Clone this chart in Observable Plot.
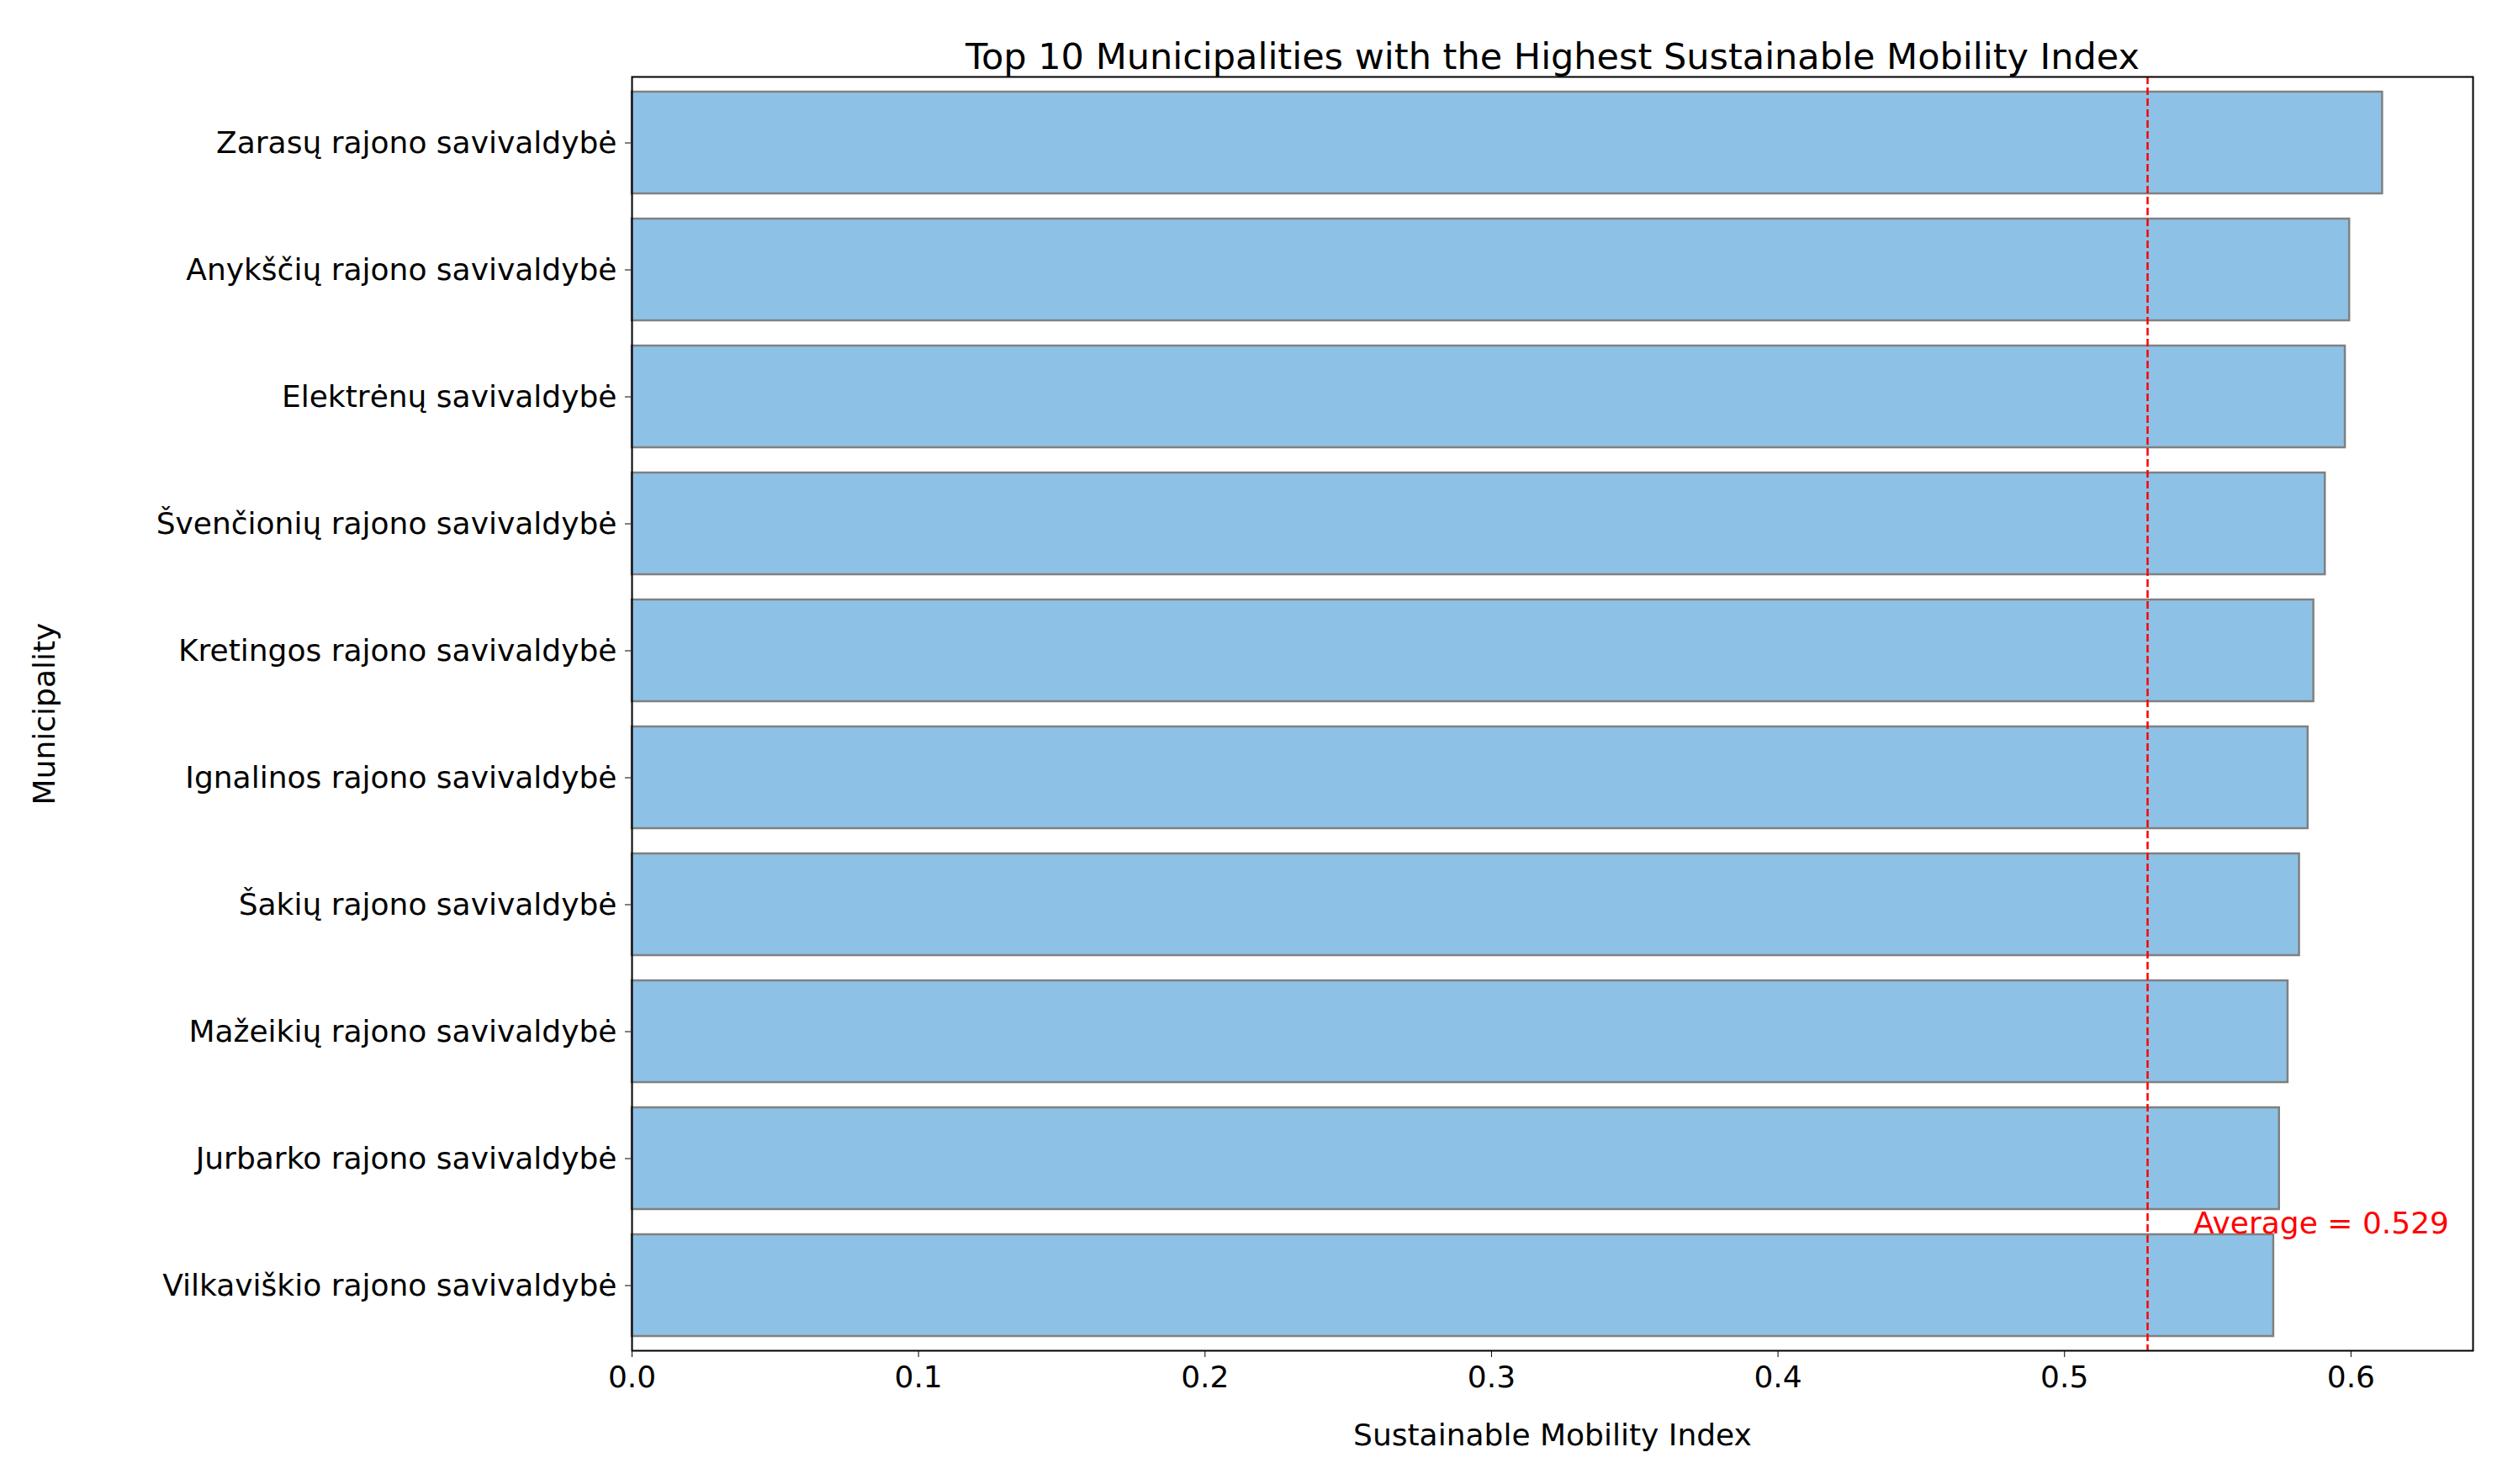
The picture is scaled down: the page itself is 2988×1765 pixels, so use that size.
<!DOCTYPE html>
<html>
<head>
<meta charset="utf-8">
<script src="https://cdn.jsdelivr.net/npm/d3@7"></script>
<script src="https://cdn.jsdelivr.net/npm/@observablehq/plot@0.6"></script>
<style>
  body { margin: 0; background: white; }
</style>
</head>
<body>
<div id="chart"></div>
<script>
// values
const municipalities = [
  "Zarasų rajono savivaldybė",
  "Anykščių rajono savivaldybė",
  "Elektrėnų savivaldybė",
  "Švenčionių rajono savivaldybė",
  "Kretingos rajono savivaldybė",
  "Ignalinos rajono savivaldybė",
  "Šakių rajono savivaldybė",
  "Mažeikių rajono savivaldybė",
  "Jurbarko rajono savivaldybė",
  "Vilkaviškio rajono savivaldybė"
];
const indexValues = [0.611, 0.5995, 0.598, 0.591, 0.587, 0.585, 0.582, 0.578, 0.575, 0.573];
const average = 0.529;
const xTicks = [0, 0.1, 0.2, 0.3, 0.4, 0.5, 0.6];

const data = municipalities.map((m, i) => ({municipality: m, value: indexValues[i]}));

let chart = Plot.plot({
  width: 2988,
  height: 1765,
  marginLeft: 751,
  marginRight: 48,
  marginTop: 91,
  marginBottom: 159,
  style: {
    fontFamily: "DejaVu Sans",
    fontSize: "36px",
    color: "black",
    background: "white"
  },
  x: {
    domain: [0, 0.6426],
    ticks: xTicks,
    tickFormat: d3.format(".1f"),
    label: "Sustainable Mobility Index",
    labelAnchor: "center",
    labelArrow: "none",
    labelOffset: 112,
    tickSize: 8,
    tickPadding: 10
  },
  y: {
    domain: municipalities,
    paddingInner: 0.2,
    paddingOuter: 0.1,
    label: "Municipality",
    labelAnchor: "center",
    labelArrow: "none",
    labelOffset: 712,
    tickSize: 8,
    tickPadding: 10
  },
  marks: [
    Plot.barX(data, {
      x: "value",
      y: "municipality",
      fill: "#8dc2e6",
      stroke: "#808080",
      strokeWidth: 2.5
    }),
    Plot.ruleX([average], {stroke: "red", strokeWidth: 2.5, strokeDasharray: "9,4"}),
    Plot.text([{x: 0.545, y: municipalities[9]}], {
      x: "x", y: "y",
      text: () => "Average = " + average,
      fill: "red",
      textAnchor: "start",
      dy: -74,
      fontSize: 36
    }),
    Plot.frame({stroke: "black", strokeWidth: 2}),
    Plot.text(["Top 10 Municipalities with the Highest Sustainable Mobility Index"], {
      frameAnchor: "top",
      dy: -40,
      fontSize: 43
    })
  ]
});
d3.select('#chart').append(() => chart);
</script>
</body>
</html>
